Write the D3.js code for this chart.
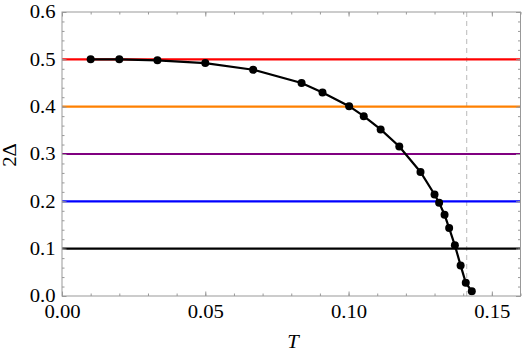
<!DOCTYPE html>
<html><head><meta charset="utf-8">
<script src="https://cdn.jsdelivr.net/npm/d3@7"></script>
<style>body{margin:0;background:#fff}svg{display:block}svg text{font-family:"Liberation Serif","Times New Roman",Times,"DejaVu Serif",serif !important;fill:#000}</style>
</head><body><svg id="c" width="523" height="358"></svg>
<script>
const tempValues = [0.010,0.020,0.0333,0.050,0.0667,0.0836,0.0909,0.1002,0.1053,0.1112,0.1177,0.1251,0.1300,0.1316,0.1335,0.1351,0.1371,0.1391,0.1409,0.1430];
const gapValues  = [0.500,0.500,0.498,0.492,0.478,0.450,0.430,0.401,0.380,0.352,0.316,0.262,0.2145,0.197,0.1716,0.1435,0.107,0.0647,0.028,0.0099];
const refLevels = [0.5,0.4,0.3,0.2,0.1];
const refColors = ["#ff0000","#ff8000","#800080","#0000ff","#000000"];
const criticalT = [0.1412];
const xTicks = [0,0.05,0.10,0.15];
const yTicks = [0,0.1,0.2,0.3,0.4,0.5,0.6];
const xLabel = "T", yLabel = "2Δ";

const svg = d3.select("#c");
const L=62,R=520.5,T=12,B=296;
const x = d3.scaleLinear().domain([0,0.16]).range([L,R]);
const y = d3.scaleLinear().domain([0,0.6]).range([B,T]);

const plot = svg.append("g");
plot.append("defs").append("clipPath").attr("id","cp").append("rect").attr("x",L).attr("y",T).attr("width",R-L).attr("height",B-T);
const g = plot.append("g").attr("clip-path","url(#cp)");

g.selectAll(".crit").data(criticalT).join("line")
 .attr("x1",d=>x(d)).attr("x2",d=>x(d)).attr("y1",T).attr("y2",B)
 .attr("stroke","#c8c8c8").attr("stroke-width",1.3).attr("stroke-dasharray","5,4");

g.selectAll(".ref").data(refLevels).join("line")
 .attr("x1",L).attr("x2",R).attr("y1",d=>y(d)).attr("y2",d=>y(d))
 .attr("stroke",(d,i)=>refColors[i]).attr("stroke-width",2.2);

const pts = tempValues.map((t,i)=>[t,gapValues[i]]);
g.append("path").datum(pts)
 .attr("d",d3.line().x(d=>x(d[0])).y(d=>y(d[1])))
 .attr("fill","none").attr("stroke","#000").attr("stroke-width",2.2);
g.selectAll(".pt").data(pts).join("circle")
 .attr("cx",d=>x(d[0])).attr("cy",d=>y(d[1])).attr("r",4).attr("fill","#000");

const fc="#999";
function ax(axisGen, tr, ticks, minor, lab){
  const a = svg.append("g").attr("transform",tr);
  a.call(axisGen.tickValues(minor).tickSize(2.5).tickFormat(""));
  a.selectAll("path").remove();
  a.selectAll("line").attr("stroke",fc);
  const b = svg.append("g").attr("transform",tr);
  b.call(axisGen.tickValues(ticks).tickSize(4.5).tickFormat(lab));
  b.selectAll("path").remove();
  b.selectAll("line").attr("stroke",fc);
  b.attr("font-family",null);
  return b;
}
const xMinor = d3.range(0,0.1601,0.01), yMinor = d3.range(0,0.6001,0.02);
const bx = ax(d3.axisTop(x), `translate(0,${B})`, xTicks, xMinor, d3.format(".2f"));
bx.selectAll("text").attr("y",22).attr("font-size",18).attr("fill","#000")
  .attr("transform",d=>`translate(${x(d)},0) scale(1.15,1) translate(${-x(d)},0)`);
bx.selectAll(".tick").each(function(d){
  d3.select(this).select("text").attr("transform","scale(1.15,1)");
});
ax(d3.axisBottom(x), `translate(0,${T})`, xTicks, xMinor, ()=>"");
const by = ax(d3.axisRight(y), `translate(${L},0)`, yTicks, yMinor, d3.format(".1f"));
by.selectAll("text").attr("x",-6.5/1.15).attr("dy","0.33em").attr("text-anchor","end").attr("font-size",18).attr("fill","#000")
  .attr("transform","scale(1.15,1)");
ax(d3.axisLeft(y), `translate(${R},0)`, yTicks, yMinor, ()=>"");

svg.append("rect").attr("x",L).attr("y",T).attr("width",R-L).attr("height",B-T)
 .attr("fill","none").attr("stroke",fc).attr("stroke-width",1);

svg.append("text").attr("transform","translate(293,348) scale(1.15,1)").attr("text-anchor","middle")
 .attr("font-size",18).attr("font-style","italic").text(xLabel);
svg.append("text").attr("transform","translate(16,155) rotate(-90) scale(1.15,1)").attr("text-anchor","middle")
 .attr("font-size",18).text(yLabel);
</script></body></html>
